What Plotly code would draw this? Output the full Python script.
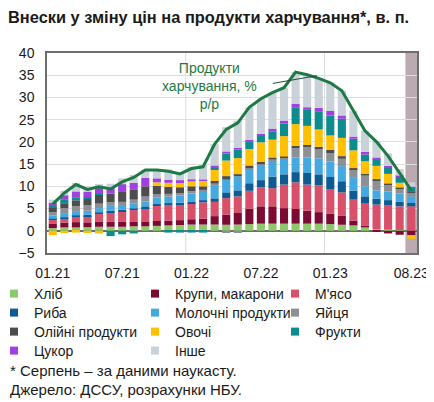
import plotly.graph_objects as go

months = ["01.21","02.21","03.21","04.21","05.21","06.21","07.21","08.21","09.21","10.21","11.21","12.21",
          "01.22","02.22","03.22","04.22","05.22","06.22","07.22","08.22","09.22","10.22","11.22","12.22",
          "01.23","02.23","03.23","04.23","05.23","06.23","07.23","08.23"]
tick_months = ["01.21","07.21","01.22","07.22","01.23","08.23"]

bread = [0.6,0.75,0.75,0.8,0.9,0.9,0.9,1.0,1.0,1.1,1.2,1.3,1.4,1.4,1.4,1.35,1.4,1.5,1.6,1.6,1.6,1.6,1.6,1.6,1.5,1.35,1.2,0.75,0.4,0.3,0.2,0.0]
cereals = [1.05,1.1,1.2,1.1,1.1,1.1,1.1,1.1,1.1,1.1,1.1,1.1,1.2,1.3,1.9,2.25,2.6,3.5,3.9,3.9,3.5,3.3,2.9,2.6,2.3,2.0,1.1,0.45,-0.2,-0.6,-0.9,-1.0]
meat = [0.8,0.9,1.2,1.4,1.8,2.2,2.4,2.6,3.0,3.4,3.5,3.5,3.6,3.7,3.2,3.75,3.75,4.0,4.3,4.1,5.3,6.0,5.9,6.0,5.6,5.3,4.7,4.9,5.5,5.5,5.3,5.5]
fish = [0.25,0.25,0.3,0.3,0.3,0.3,0.3,0.3,0.4,0.4,0.4,0.4,0.4,0.5,0.8,1.3,1.35,1.7,1.6,2.6,2.3,2.3,2.6,2.5,2.7,2.5,2.0,1.65,1.3,1.1,1.0,0.75]
dairy = [0.7,0.8,0.8,0.9,1.0,1.1,1.1,1.2,1.1,1.5,1.5,1.6,1.8,1.9,2.8,2.85,3.15,3.1,3.2,3.4,3.4,3.3,3.5,3.6,3.5,3.4,2.9,2.25,1.9,1.9,1.9,1.5]
eggs = [0.75,1.3,1.3,1.2,1.0,0.8,0.7,0.8,1.1,0.75,0.6,0.6,0.5,0.4,0.5,-0.5,-0.5,0.3,0.4,0.4,0.3,2.1,2.3,2.0,1.9,1.65,1.9,2.4,2.1,1.5,1.1,0.75]
oils = [1.0,1.1,1.3,1.5,2.0,2.0,2.4,2.2,2.3,1.9,1.6,1.3,1.1,0.8,0.6,0.8,0.5,0.6,0.5,0.5,0.3,0.5,0.5,0.6,0.75,0.6,0.3,0.45,0.4,0.3,0.2,0.2]
vegetables = [-1.0,-0.5,-0.4,-0.5,-0.6,0.0,0.0,0.0,0.0,0.75,0.9,0.9,1.1,1.2,2.6,3.5,3.6,3.7,4.4,4.0,4.6,4.9,4.3,3.9,3.2,4.1,4.0,2.8,3.0,2.2,1.1,-0.8]
fruits = [0.4,0.75,0.7,0.4,0.3,-1.2,-0.8,-0.6,0.0,0.0,-0.4,-0.4,-0.4,-0.4,0.3,1.6,1.9,1.6,1.5,1.9,2.8,3.8,3.6,4.1,4.5,4.3,2.6,1.5,1.5,1.5,1.3,1.1]
sugar = [0.75,1.05,1.3,1.2,1.3,1.3,1.6,1.6,1.9,0.9,0.7,0.7,0.5,0.3,0.6,0.45,0.45,0.5,0.4,0.6,0.7,0.8,0.6,0.75,1.0,0.75,0.5,0.6,0.4,0.3,0.3,0.1]
other = [0.7,1.0,1.9,1.0,0.8,0.9,1.3,1.8,1.8,1.9,2.3,1.8,2.8,3.3,4.8,5.45,6.1,7.3,7.9,8.1,7.4,7.1,7.3,6.7,6.4,5.6,5.8,4.8,3.7,2.8,1.5,1.0]
food_total = [6.0,8.5,10.4,9.3,9.9,9.4,11.0,12.0,13.7,13.7,13.4,12.8,14.0,14.4,19.5,22.8,24.3,27.8,29.7,31.1,32.2,35.7,35.1,34.3,33.3,31.5,27.0,22.5,20.0,16.8,13.0,9.1]

series = [
    ("Хліб", bread, "#8DC86A"),
    ("Крупи, макарони", cereals, "#7B0B33"),
    ("М'ясо", meat, "#D9506B"),
    ("Риба", fish, "#0E5A93"),
    ("Молочні продукти", dairy, "#44A9E0"),
    ("Яйця", eggs, "#8C9095"),
    ("Олійні продукти", oils, "#4D4D4D"),
    ("Овочі", vegetables, "#FFC000"),
    ("Фрукти", fruits, "#0C8C8C"),
    ("Цукор", sugar, "#A040E0"),
    ("Інше", other, "#C9D1D9"),
]

FONT = "Liberation Sans, Arial, sans-serif"
GREEN = "#1D7A45"
TXT = "#1a1a1a"

W, H = 426, 394          # page body adds an 8 px margin
ML, MR, MT, MB = 39, 17, 45, 149
PW, PH = W - ML - MR, H - MT - MB

fig = go.Figure()
legend_layouts = {}
col_text_px = [26, 167, 307]       # where legend text starts (figure px)
row_center_px = [286, 305, 324, 343]
for i, (name, vals, color) in enumerate(series):
    lg = "legend" if i == 0 else f"legend{i+1}"
    fig.add_trace(go.Bar(x=months, y=vals, name=name, legendgroup=name, showlegend=False,
                         marker=dict(color=color, line=dict(width=0))))
    fig.add_trace(go.Scatter(x=[None], y=[None], mode="markers", name=name, legendgroup=name,
                             legend=lg, showlegend=True,
                             marker=dict(symbol="square", size=8, color=color)))
    r, c = divmod(i, 3)
    legend_layouts[lg] = dict(
        x=(col_text_px[c] - 40 - ML) / PW, xanchor="left",
        y=(MT + PH - row_center_px[r]) / PH, yanchor="middle",
        font=dict(size=14, family=FONT, color=TXT), bgcolor="rgba(0,0,0,0)",
        borderwidth=0)

fig.add_trace(go.Scatter(x=months, y=food_total, mode="lines", name="Продукти харчування, % р/р",
                         line=dict(color=GREEN, width=3), showlegend=False))

fig.update_layout(
    width=W, height=H,
    barmode="relative", bargap=0.3,
    plot_bgcolor="white", paper_bgcolor="white",
    margin=dict(l=ML, r=MR, t=MT, b=MB, autoexpand=False),
    font=dict(family=FONT, size=14, color=TXT),
    title=dict(text="<b>Внески у зміну цін на продукти харчування*, в. п.</b>",
               x=0.0, xanchor="left", y=1 - 9 / H, yanchor="middle",
               font=dict(size=16.4, family=FONT, color=TXT)),
    showlegend=True,
    **legend_layouts,
)

fig.update_xaxes(type="category", categoryorder="array", categoryarray=months,
                 tickmode="array", tickvals=tick_months, ticktext=tick_months,
                 showgrid=False, ticks="", showline=True, linecolor="#6E6E6E", linewidth=1.5,
                 mirror=True, tickfont=dict(size=14), ticklabelstandoff=6)
fig.update_yaxes(range=[-5, 40], dtick=5, showgrid=True, gridcolor="#DDDDDD", gridwidth=1,
                 zeroline=True, zerolinecolor="#6E6E6E", zerolinewidth=1.5,
                 showline=True, linecolor="#6E6E6E", linewidth=1.5, mirror=True,
                 ticks="", tickfont=dict(size=14), ticklabelstandoff=8)

# nowcast shading and year boundary gridlines
fig.add_shape(type="rect", xref="x", yref="paper", x0=30.5, x1=31.5, y0=0, y1=1,
              fillcolor="#BCAAB2", line=dict(width=0), layer="below")
for xb in (11.5, 23.5):
    fig.add_shape(type="line", xref="x", yref="paper", x0=xb, x1=xb, y0=0, y1=1,
                  line=dict(color="#DDDDDD", width=1), layer="below")

fig.add_annotation(text="Продукти<br>харчування, %<br>р/р", xref="paper", yref="paper",
                   x=0.44, y=0.835, xanchor="center", yanchor="middle", showarrow=False,
                   font=dict(size=14, color=GREEN, family=FONT))
fig.add_annotation(x=22.85, y=34.9, xref="x", yref="y", ax=18.9, ay=33.1, axref="x", ayref="y",
                   text="", showarrow=True, arrowhead=0, arrowwidth=1, arrowcolor="#1E5035")

fig.add_annotation(text="* Серпень – за даними наукасту.", xref="paper", yref="paper",
                   x=(0 - ML) / PW, y=(MT + PH - 362) / PH, xanchor="left", yanchor="middle",
                   showarrow=False, font=dict(size=15, family=FONT, color=TXT))
fig.add_annotation(text="Джерело: ДССУ, розрахунки НБУ.", xref="paper", yref="paper",
                   x=(0 - ML) / PW, y=(MT + PH - 381) / PH, xanchor="left", yanchor="middle",
                   showarrow=False, font=dict(size=15, family=FONT, color=TXT))

fig.write_html("out.html")
